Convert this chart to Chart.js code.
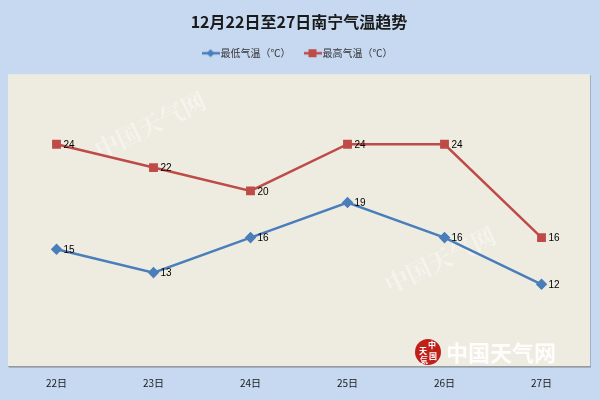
<!DOCTYPE html>
<html><head><meta charset="utf-8">
<script src="https://cdn.jsdelivr.net/npm/chart.js@4"></script>
<style>html,body{margin:0;padding:0;background:#c6d9f1;}#wrap{width:600px;height:400px;}</style>
</head><body><div id="wrap"><canvas id="c" width="600" height="400"></canvas></div>
<script>
const categories = ['22日','23日','24日','25日','26日','27日'];
const lowTemps = [15, 13, 16, 19, 16, 12];
const highTemps = [24, 22, 20, 24, 24, 16];
const seriesNames = ['最低气温（℃）','最高气温（℃）'];
const titleText = '12月22日至27日南宁气温趋势';
const watermarkText = '中国天气网';

const blue = '#4a7ebb', red = '#be4b48';
function legendIcon(color, style){
  const c = document.createElement('canvas'); c.width = 18; c.height = 10;
  const x = c.getContext('2d');
  x.strokeStyle = color; x.lineWidth = 2.5; x.beginPath(); x.moveTo(0,5); x.lineTo(18,5); x.stroke();
  x.fillStyle = color;
  if (style==='diamond'){ x.beginPath(); x.moveTo(9,1); x.lineTo(13,5); x.lineTo(9,9); x.lineTo(5,5); x.closePath(); x.fill(); }
  else { x.fillRect(5,1,8,8); }
  return c;
}
const icons = [legendIcon(blue,'diamond'), legendIcon(red,'square')];

const bgPlugin = {
  id:'bg',
  beforeDraw(chart){
    const {ctx, chartArea:a} = chart;
    ctx.save();
    ctx.fillStyle = '#c6d9f1'; ctx.fillRect(0,0,chart.width,chart.height);
    ctx.fillStyle = 'rgba(0,0,0,0.18)'; ctx.fillRect(a.left+1, a.top+1, a.right-a.left, a.bottom-a.top+1);
    ctx.fillStyle = '#eeece1'; ctx.fillRect(a.left, a.top, a.right-a.left, a.bottom-a.top);
    // faint watermarks
    ctx.fillStyle = 'rgba(255,255,255,0.38)';
    ctx.font = 'bold 24px "Noto Serif CJK SC", "Noto Sans CJK SC", serif';
    [[150,125],[440,260]].forEach(([x,y])=>{
      ctx.save(); ctx.translate(x,y); ctx.rotate(-0.45); ctx.textAlign='center'; ctx.textBaseline='middle';
      ctx.fillText(watermarkText, 0, 0); ctx.restore();
    });
    ctx.restore();
  },
  afterDatasetsDraw(chart){
    const ctx = chart.ctx;
    ctx.save();
    ctx.font = '10px "Liberation Sans", Arial, sans-serif';
    ctx.fillStyle = '#000'; ctx.textBaseline = 'middle'; ctx.textAlign = 'left';
    chart.data.datasets.forEach((ds,i)=>{
      chart.getDatasetMeta(i).data.forEach((p,j)=>{
        ctx.fillText(String(ds.data[j]), p.x+7, p.y+1);
      });
    });
    ctx.restore();
  },
  afterDraw(chart){
    const ctx = chart.ctx;
    ctx.save();
    ctx.fillStyle = '#c0201a';
    ctx.beginPath(); ctx.arc(428, 352, 13, 0, Math.PI*2); ctx.fill();
    ctx.fillStyle = '#fff'; ctx.font = 'bold 8px "Noto Sans CJK SC", sans-serif';
    ctx.textAlign='center'; ctx.textBaseline='middle';
    ctx.fillText('中', 432, 345); ctx.fillText('天', 423, 351); ctx.fillText('国', 433, 356); ctx.fillText('気', 424, 360);
    ctx.fillStyle = 'rgba(255,255,255,0.9)'; ctx.font = 'bold 22px "Noto Sans CJK SC", serif';
    ctx.textAlign='left';
    ctx.fillText(watermarkText, 446, 353);
    ctx.restore();
  }
};

new Chart(document.getElementById('c'), {
  type:'line',
  data:{
    labels: categories,
    datasets:[
      {label: seriesNames[0], data: lowTemps, borderColor: blue, backgroundColor: blue, borderWidth: 2.5,
       pointStyle: 'rectRot', pointRadius: 4, pointHoverRadius: 4, tension: 0},
      {label: seriesNames[1], data: highTemps, borderColor: red, backgroundColor: red, borderWidth: 2.5,
       pointStyle: 'rect', pointRadius: 4.5, pointHoverRadius: 4.5, tension: 0}
    ]
  },
  options:{
    responsive:false, animation:false,
    layout:{padding:{left:8, right:10, top:12, bottom:0}},
    plugins:{
      title:{display:true, text:titleText, color:'#1a1a1a',
        font:{family:'"Noto Sans CJK SC", sans-serif', size:16, weight:'bold'}, padding:{top:0,bottom:0}},
      legend:{display:true, labels:{
        usePointStyle:true, boxWidth:18, boxHeight:10, color:'#333', padding:17,
        font:{family:'"Noto Sans CJK SC", sans-serif', size:10},
        generateLabels(chart){
          return chart.data.datasets.map((ds,i)=>({text: ds.label, pointStyle: icons[i], fontColor:'#333', datasetIndex:i, hidden:false, lineWidth:0, strokeStyle:'transparent', fillStyle:'transparent'}));
        }}},
      tooltip:{enabled:false}
    },
    scales:{
      x:{offset:true, grid:{display:false, drawTicks:false}, border:{display:true, color:'#9a9a9a'},
         ticks:{color:'#1a1a1a', padding:12, font:{family:'"Noto Sans CJK SC", sans-serif', size:10, lineHeight:1}}},
      xTop:{type:'category', position:'top', offset:true, labels: categories,
         grid:{display:false, drawTicks:false}, border:{display:false}, ticks:{display:false},
         afterFit(s){ s.height = 6; }},
      y:{display:false, min:5, max:30}
    }
  },
  plugins:[bgPlugin]
});
</script></body></html>
